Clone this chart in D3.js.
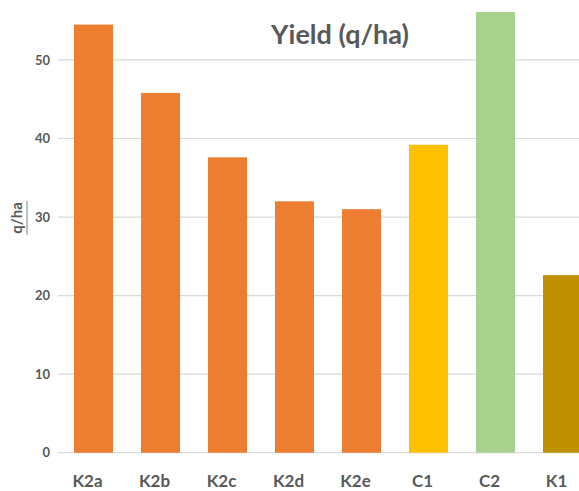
<!DOCTYPE html>
<html>
<head>
<meta charset="utf-8">
<script src="https://cdn.jsdelivr.net/npm/d3@7"></script>
<style>
  body { margin: 0; background: #fff; }
  svg { display: block; font-family: Lato, "Open Sans", sans-serif; }
</style>
</head>
<body>
<div id="chart"></div>
<script>
// data
const categories = ["K2a", "K2b", "K2c", "K2d", "K2e", "C1", "C2", "K1"];
const yields = [54.5, 45.8, 37.6, 32.0, 31.0, 39.2, 56.1, 22.6];
const barColors = ["#ED7D31", "#ED7D31", "#ED7D31", "#ED7D31", "#ED7D31", "#FFC000", "#A9D18E", "#BF9000"];
const yTicks = [0, 10, 20, 30, 40, 50];

const width = 579, height = 491;
const margin = {top: 12, right: 0, bottom: 38, left: 60};

const svg = d3.select("#chart")
  .append("svg")
  .attr("width", width)
  .attr("height", height);

let x = d3.scaleBand()
  .domain(categories)
  .range([margin.left, 596])
  .paddingInner(0.418)
  .paddingOuter(0.209);

let y = d3.scaleLinear()
  .domain([0, 56.1])
  .range([452.7, 12]);

// gridlines
svg.append("g")
  .selectAll("line")
  .data(yTicks)
  .enter().append("line")
    .attr("x1", 58)
    .attr("x2", width)
    .attr("y1", d => y(d))
    .attr("y2", d => y(d))
    .attr("stroke", "#d9d9d9")
    .attr("stroke-width", 1.2);

// y axis labels
let yAxis = g => g
  .attr("transform", `translate(50,0)`)
  .call(d3.axisLeft(y).tickValues(yTicks).tickSize(0).tickPadding(0))
  .call(g => g.select(".domain").remove())
  .call(g => g.selectAll("text")
    .attr("fill", "#595959")
    .style("font-size", "13px")
    .style("font-weight", "bold")
    .style("font-family", "Lato, sans-serif"));

svg.append("g").call(yAxis);

// bars
svg.append("g")
  .selectAll("rect")
  .data(categories)
  .enter().append("rect")
    .attr("x", d => x(d))
    .attr("width", x.bandwidth())
    .attr("y", (d, i) => y(yields[i]))
    .attr("height", (d, i) => y(0) - y(yields[i]))
    .attr("fill", (d, i) => barColors[i]);

// category labels
svg.append("g")
  .selectAll("text")
  .data(categories)
  .enter().append("text")
    .attr("x", d => x(d) + x.bandwidth() / 2 - 6)
    .attr("y", 487)
    .attr("text-anchor", "middle")
    .attr("fill", "#595959")
    .style("font-size", "17px")
    .style("font-weight", "bold")
    .text(d => d);

// title
svg.append("text")
  .attr("x", 340)
  .attr("y", 44)
  .attr("text-anchor", "middle")
  .attr("fill", "#595959")
  .style("font-size", "27px")
  .style("font-weight", "bold")
  .text("Yield (q/ha)");

// y title, underlined
let yTitle = svg.append("g")
  .attr("transform", "translate(22,218) rotate(-90)");
yTitle.append("text")
  .attr("text-anchor", "middle")
  .attr("fill", "#595959")
  .style("font-size", "15px")
  .style("font-weight", "bold")
  .text("q/ha");
yTitle.append("line")
  .attr("x1", -17).attr("x2", 17)
  .attr("y1", 5).attr("y2", 5)
  .attr("stroke", "#7f7f7f")
  .attr("stroke-width", 1);
</script>
</body>
</html>
